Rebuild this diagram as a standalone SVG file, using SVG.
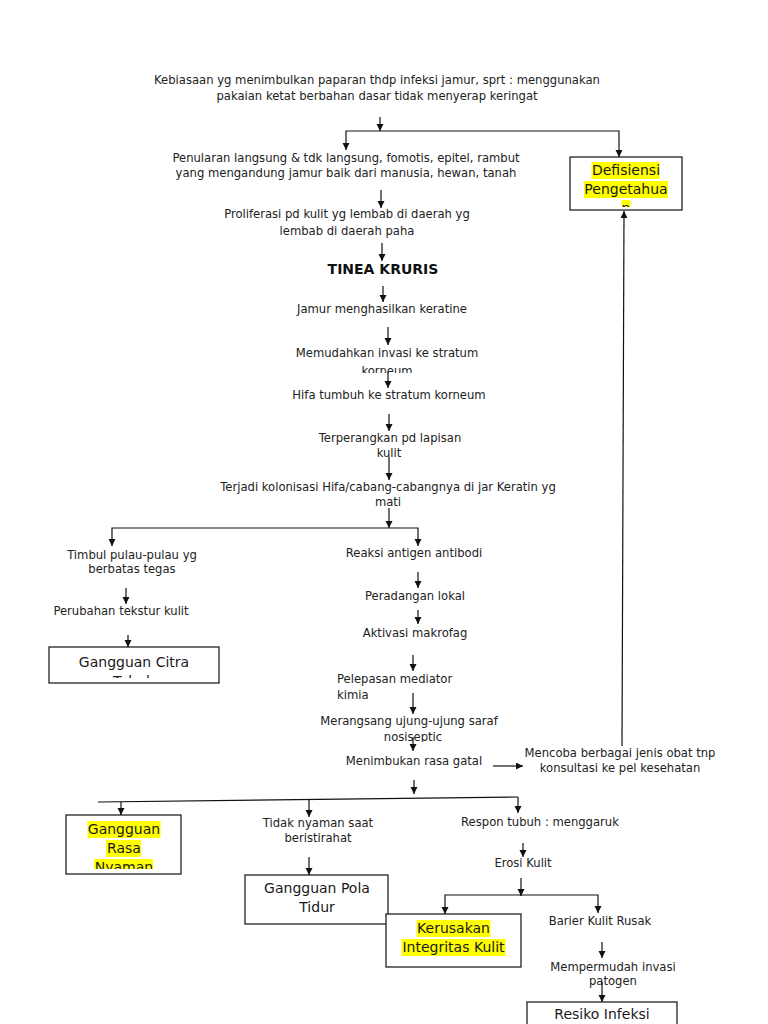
<svg xmlns="http://www.w3.org/2000/svg" width="768" height="1024" viewBox="0 0 768 1024">
<style>
.t{font-family:"DejaVu Sans","Liberation Sans",sans-serif;font-size:11.6px;fill:#222;text-anchor:middle}
.l{text-anchor:start}
.b{font-size:14px;fill:#1a1a1a}
.bold{font-weight:bold;font-size:14px;fill:#111}
.box{fill:#fff;stroke:#222;stroke-width:1.3}
.hl{fill:#ffff00}
.c{fill:none;stroke:#111;stroke-width:1.2}
.a{marker-end:url(#ah)}
</style>
<defs>
<marker id="ah" markerUnits="userSpaceOnUse" markerWidth="8" markerHeight="8" refX="7" refY="3.5" orient="auto">
<path d="M0,0 L7,3.5 L0,7 z" fill="#111"/>
</marker>
<clipPath id="cpKor"><rect x="300" y="360" width="180" height="13"/></clipPath>
<clipPath id="cpNos"><rect x="330" y="728" width="180" height="14"/></clipPath>
<clipPath id="cpDef"><rect x="571" y="158" width="110" height="49"/></clipPath>
<clipPath id="cpCit"><rect x="50" y="648" width="168" height="30"/></clipPath>
<clipPath id="cpRas"><rect x="67" y="816" width="113" height="53"/></clipPath>
<clipPath id="cpRes"><rect x="528" y="1003" width="148" height="21"/></clipPath>
</defs>
<rect width="768" height="1024" fill="#fff"/>

<g id="n-kebiasaan">
<text class="t" x="377" y="84">Kebiasaan yg menimbulkan paparan thdp infeksi jamur, sprt : menggunakan</text>
<text class="t" x="377" y="100">pakaian ketat berbahan dasar tidak menyerap keringat</text>
</g>
<g id="n-penularan">
<text class="t" x="346" y="162">Penularan langsung &amp; tdk langsung, fomotis, epitel, rambut</text>
<text class="t" x="346" y="177">yang mengandung jamur baik dari manusia, hewan, tanah</text>
</g>
<g id="n-defisiensi">
<rect class="box" x="570" y="157" width="112" height="53"/>
<g clip-path="url(#cpDef)">
<rect class="hl" x="591.5" y="162" width="68" height="17"/>
<rect class="hl" x="584" y="181" width="84" height="17"/>
<rect class="hl" x="621.5" y="200" width="9" height="17"/>
<text class="t b" x="626" y="175">Defisiensi</text>
<text class="t b" x="626" y="194">Pengetahua</text>
<text class="t b" x="626" y="213">n</text>
</g>
</g>
<g id="n-proliferasi">
<text class="t" x="347" y="218">Proliferasi pd kulit yg lembab di daerah yg</text>
<text class="t" x="347" y="235">lembab di daerah paha</text>
</g>
<g id="n-tinea">
<text class="t bold" x="383" y="274">TINEA KRURIS</text>
</g>
<g id="n-jamur">
<text class="t" x="382" y="313">Jamur menghasilkan keratine</text>
</g>
<g id="n-memudahkan">
<text class="t" x="387" y="357">Memudahkan invasi ke stratum</text>
<text class="t" x="387" y="375" clip-path="url(#cpKor)">korneum</text>
</g>
<g id="n-hifa">
<text class="t" x="389" y="399">Hifa tumbuh ke stratum korneum</text>
</g>
<g id="n-terperangkan">
<text class="t" x="390" y="442">Terperangkan pd lapisan</text>
<text class="t" x="389" y="457">kulit</text>
</g>
<g id="n-kolonisasi">
<text class="t" x="388" y="491">Terjadi kolonisasi Hifa/cabang-cabangnya di jar Keratin yg</text>
<text class="t" x="388" y="506">mati</text>
</g>
<g id="n-timbul">
<text class="t" x="132" y="559">Timbul pulau-pulau yg</text>
<text class="t" x="132" y="573">berbatas tegas</text>
</g>
<g id="n-perubahan">
<text class="t" x="121" y="615">Perubahan tekstur kulit</text>
</g>
<g id="n-citra">
<rect class="box" x="49" y="647" width="170" height="36"/>
<g clip-path="url(#cpCit)">
<text class="t b" x="134" y="667">Gangguan Citra</text>
<text class="t b" x="134" y="686">Tubuh</text>
</g>
</g>
<g id="n-reaksi">
<text class="t" x="414" y="557">Reaksi antigen antibodi</text>
</g>
<g id="n-peradangan">
<text class="t" x="415" y="600">Peradangan lokal</text>
</g>
<g id="n-aktivasi">
<text class="t" x="415" y="637">Aktivasi makrofag</text>
</g>
<g id="n-pelepasan">
<text class="t l" x="337" y="683">Pelepasan mediator</text>
<text class="t l" x="337" y="699">kimia</text>
</g>
<g id="n-merangsang">
<text class="t" x="409" y="725">Merangsang ujung-ujung saraf</text>
<text class="t" x="413" y="741" clip-path="url(#cpNos)">nosiseptic</text>
</g>
<g id="n-gatal">
<text class="t" x="414" y="765">Menimbukan rasa gatal</text>
</g>
<g id="n-mencoba">
<text class="t" x="620" y="757">Mencoba berbagai jenis obat tnp</text>
<text class="t" x="620" y="772">konsultasi ke pel kesehatan</text>
</g>
<g id="n-rasa">
<rect class="box" x="66" y="815" width="115" height="59"/>
<g clip-path="url(#cpRas)">
<rect class="hl" x="87.5" y="821" width="73" height="17"/>
<rect class="hl" x="106" y="840" width="35" height="17"/>
<rect class="hl" x="94" y="859" width="59" height="17"/>
<text class="t b" x="124" y="834">Gangguan</text>
<text class="t b" x="124" y="853">Rasa</text>
<text class="t b" x="124" y="872">Nyaman</text>
</g>
</g>
<g id="n-tidak">
<text class="t" x="318" y="827">Tidak nyaman saat</text>
<text class="t" x="318" y="842">beristirahat</text>
</g>
<g id="n-pola">
<rect class="box" x="245" y="875" width="143" height="49"/>
<text class="t b" x="317" y="893">Gangguan Pola</text>
<text class="t b" x="317" y="912">Tidur</text>
</g>
<g id="n-respon">
<text class="t" x="540" y="826">Respon tubuh : menggaruk</text>
</g>
<g id="n-erosi">
<text class="t" x="523" y="867">Erosi Kulit</text>
</g>
<g id="n-kerusakan">
<rect class="box" x="386" y="914" width="135" height="53"/>
<rect class="hl" x="416.5" y="920" width="74" height="17"/>
<rect class="hl" x="401.5" y="939" width="104" height="17"/>
<text class="t b" x="453.5" y="933">Kerusakan</text>
<text class="t b" x="453.5" y="952">Integritas Kulit</text>
</g>
<g id="n-barier">
<text class="t" x="600" y="925">Barier Kulit Rusak</text>
</g>
<g id="n-mempermudah">
<text class="t" x="613" y="971">Mempermudah invasi</text>
<text class="t" x="613" y="985">patogen</text>
</g>
<g id="n-resiko">
<rect class="box" x="527" y="1002" width="150" height="40"/>
<text class="t b" x="602" y="1019" clip-path="url(#cpRes)">Resiko Infeksi</text>
</g>

<g id="connectors">
<path class="c a" d="M380,117 V131"/>
<path class="c a" d="M380,131 H346 V150"/>
<path class="c a" d="M380,131 H619 V157"/>
<path class="c a" d="M381,190 V208"/>
<path class="c a" d="M382,243 V261"/>
<path class="c a" d="M383,286 V302"/>
<path class="c a" d="M388,327 V345"/>
<path class="c a" d="M388,372 V388"/>
<path class="c a" d="M389,414 V431"/>
<path class="c a" d="M389,457 V480"/>
<path class="c a" d="M389,508 V528"/>
<path class="c a" d="M389,528 H112 V546"/>
<path class="c a" d="M389,528 H418 V546"/>
<path class="c a" d="M126,588 V604"/>
<path class="c a" d="M128,635 V647"/>
<path class="c a" d="M418,572 V588"/>
<path class="c a" d="M418,610 V624"/>
<path class="c a" d="M413,655 V671"/>
<path class="c a" d="M413,693 V714"/>
<path class="c a" d="M413,737 V751"/>
<path class="c a" d="M493,766 H523"/>
<path class="c a" d="M622,746 L624,211"/>
<path class="c a" d="M414,780 V794"/>
<path class="c" d="M98,802 L518,797"/>
<path class="c a" d="M518,797 V813"/>
<path class="c a" d="M121,802 V815"/>
<path class="c a" d="M309,800 V817"/>
<path class="c a" d="M523,843 V857"/>
<path class="c a" d="M309,857 V875"/>
<path class="c a" d="M521,878 V896"/>
<path class="c a" d="M521,895 H445 V914"/>
<path class="c a" d="M521,895 H598 V913"/>
<path class="c a" d="M602,942 V958"/>
<path class="c a" d="M602,982 V1002"/>
</g>
</svg>
